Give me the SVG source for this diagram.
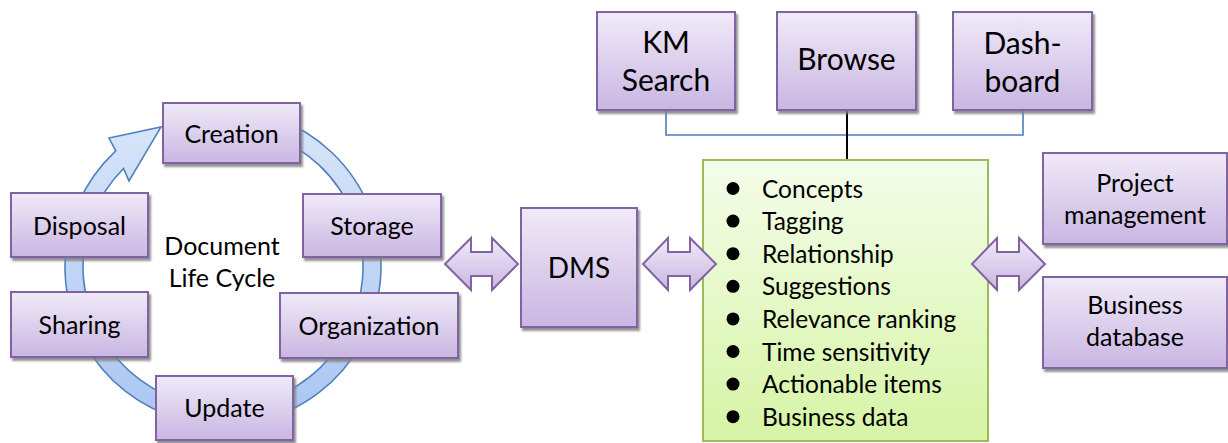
<svg xmlns="http://www.w3.org/2000/svg" width="1228" height="443" viewBox="0 0 1228 443">
  <defs>
    <linearGradient id="purp" x1="0" y1="0" x2="0" y2="1">
      <stop offset="0" stop-color="#F0EAF8"/>
      <stop offset="1" stop-color="#C9B6E2"/>
    </linearGradient>
    <linearGradient id="green" x1="0" y1="0" x2="0" y2="1">
      <stop offset="0" stop-color="#F4FDEA"/>
      <stop offset="1" stop-color="#D6F4A5"/>
    </linearGradient>
    <linearGradient id="blue" x1="0" y1="0" x2="0" y2="1">
      <stop offset="0" stop-color="#D8E5FA"/>
      <stop offset="1" stop-color="#A9C6F2"/>
    </linearGradient>
    <filter id="sh" x="-10%" y="-10%" width="130%" height="130%">
      <feDropShadow dx="2" dy="3" stdDeviation="0.8" flood-color="#7F7F7F" flood-opacity="0.85"/>
    </filter>
  </defs>
  <style>
    .box { fill: url(#purp); stroke: #8064A2; stroke-width: 2; filter: url(#sh); }
    .darr { fill: url(#purp); stroke: #8064A2; stroke-width: 2; stroke-linejoin: miter; }
    .lbl { font-family: Lato, "Liberation Sans", sans-serif; font-size: 25px; fill: #000; text-anchor: middle; }
    .big { font-size: 30px; }
    .lst { font-family: Lato, "Liberation Sans", sans-serif; font-size: 24.5px; fill: #000; }
  </style>
  <rect width="1228" height="443" fill="#FFFFFF"/>

  <g id="cycle-arrow">
    <path d="M277.0 118.5 A158 158 0 1 1 115.8 150.9 L109 138 L161 127 L129 181 L123.5 168.5 A140 140 0 1 0 270.9 135.4 Z" fill="url(#blue)" stroke="#4F81BD" stroke-width="1.6" stroke-linejoin="miter"/>
  </g>

  <g id="connectors">
    <polyline points="666,110 666,135 1023,135 1023,110" fill="none" stroke="#4A7EBB" stroke-width="1.6"/>
    <line x1="847" y1="110" x2="847" y2="161" stroke="#000" stroke-width="2"/>
  </g>

  <g id="creation"><rect class="box" x="163" y="103" width="137" height="60"/><text class="lbl" x="231.5" y="143">Creation</text></g>
  <g id="disposal"><rect class="box" x="11" y="193" width="137" height="64"/><text class="lbl" x="79.5" y="235">Disposal</text></g>
  <g id="storage"><rect class="box" x="303" y="194" width="138" height="63"/><text class="lbl" x="372" y="235">Storage</text></g>
  <g id="sharing"><rect class="box" x="11" y="292" width="137" height="65"/><text class="lbl" x="79.5" y="334">Sharing</text></g>
  <g id="organization"><rect class="box" x="280" y="293" width="178" height="65"/><text class="lbl" x="369" y="335">Organization</text></g>
  <g id="update"><rect class="box" x="156" y="376" width="137" height="64"/><text class="lbl" x="224.5" y="417">Update</text></g>
  <g id="doc-life-cycle">
    <text class="lbl" x="222" y="255">Document</text>
    <text class="lbl" x="222" y="287">Life Cycle</text>
  </g>

  <g id="dms"><rect class="box" x="521" y="208" width="116" height="119"/><text class="lbl" x="579" y="278" style="font-size:28px">DMS</text></g>

  <g id="km-search"><rect class="box" x="597" y="12" width="138" height="98"/>
    <text class="lbl big" x="666" y="53">KM</text><text class="lbl big" x="666" y="91">Search</text></g>
  <g id="browse"><rect class="box" x="777" y="12" width="139" height="98"/>
    <text class="lbl big" x="846.5" y="70">Browse</text></g>
  <g id="dashboard"><rect class="box" x="953" y="12" width="139" height="98"/>
    <text class="lbl big" x="1022.5" y="54">Dash-</text><text class="lbl big" x="1022.5" y="92">board</text></g>

  <g id="km-list">
    <rect x="703" y="160" width="285" height="281" fill="url(#green)" stroke="#9BBB59" stroke-width="2"/>
    <g fill="#000">
      <circle cx="733" cy="188.5" r="6.5"/>
      <circle cx="733" cy="221.1" r="6.5"/>
      <circle cx="733" cy="253.7" r="6.5"/>
      <circle cx="733" cy="286.3" r="6.5"/>
      <circle cx="733" cy="318.9" r="6.5"/>
      <circle cx="733" cy="351.5" r="6.5"/>
      <circle cx="733" cy="384.1" r="6.5"/>
      <circle cx="733" cy="416.7" r="6.5"/>
    </g>
    <text class="lst" x="762" y="197.5">Concepts</text>
    <text class="lst" x="762" y="230.1">Tagging</text>
    <text class="lst" x="762" y="262.7">Relationship</text>
    <text class="lst" x="762" y="295.3">Suggestions</text>
    <text class="lst" x="762" y="327.9">Relevance ranking</text>
    <text class="lst" x="762" y="360.5">Time sensitivity</text>
    <text class="lst" x="762" y="393.1">Actionable items</text>
    <text class="lst" x="762" y="425.7">Business data</text>
  </g>

  <g id="project-management"><rect class="box" x="1043" y="153" width="184" height="91"/>
    <text class="lbl" x="1135" y="192">Project</text><text class="lbl" x="1135" y="224">management</text></g>
  <g id="business-database"><rect class="box" x="1043" y="277" width="184" height="91"/>
    <text class="lbl" x="1135" y="314">Business</text><text class="lbl" x="1135" y="346">database</text></g>

  <g id="double-arrows">
    <path class="darr" d="M445 264 L471 238 L471 252 L492 252 L492 238 L518 264 L492 290 L492 276 L471 276 L471 290 Z"/>
    <path class="darr" d="M643 264 L668 238 L668 252 L690 252 L690 238 L716 264 L690 290 L690 276 L668 276 L668 290 Z"/>
    <path class="darr" d="M972 264 L997 238 L997 252 L1019 252 L1019 238 L1045 264 L1019 290 L1019 276 L997 276 L997 290 Z"/>
  </g>
</svg>
